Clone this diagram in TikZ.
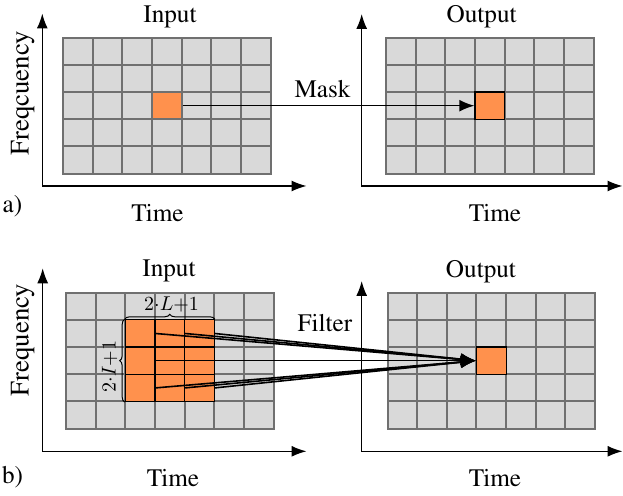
\documentclass[tikz,border=0pt]{standalone}
\usepackage[T1]{fontenc}
\renewcommand{\rmdefault}{ptm}
\usetikzlibrary{arrows.meta,decorations.pathreplacing}

\definecolor{cellgray}{HTML}{D9D9D9}
\definecolor{gridgray}{HTML}{707070}
\definecolor{hitorange}{HTML}{FF914D}

\begin{document}
\begin{tikzpicture}[x=0.5pt, y=-0.5pt,
	cell/.style={draw=gridgray, fill=cellgray, line width=1pt, minimum width=14.83pt, minimum height=13.6pt, inner sep=0pt},
	hit/.style={cell, draw=black, line width=0.6pt, fill=hitorange},
	axis/.style={draw, line width=0.65pt, {Latex[length=7.5pt,width=5.5pt]}-{Latex[length=7.5pt,width=5.5pt]}},
	flow/.style={line width=0.8pt, -{Latex[length=7.5pt,width=6pt]}},
	lbl/.style={font=\fontsize{12.6}{15}\selectfont, anchor=base, inner sep=0pt},
	side/.style={lbl, font=\fontsize{13.4}{16}\selectfont, rotate=90},
	brace/.style={draw, line width=0.5pt, decorate, decoration={brace, amplitude=2.5pt}},
	idx/.style={font=\fontsize{10}{12}\selectfont, inner sep=0.5pt}]

	\useasboundingbox (0,0) rectangle (623,496);

	\foreach \g/\gx/\gy in {ina/63/37.7, outa/386/37.7, inb/66/292.7, outb/387.5/292.7}
		\foreach \i in {0,...,6}
			\foreach \j in {0,...,4}
				\node[cell] (\g-\i-\j) at (\gx+14.83+29.65*\i, \gy+13.6+27.2*\j) {};

	\node[hit, draw=gridgray, line width=1pt] (maskin) at (ina-3-2) {};
	\node[hit] (maskout) at (outa-3-2) {};
	\foreach \i in {2,3,4}
		\foreach \j in {1,2,3}
			\node[hit] (filt-\i-\j) at (inb-\i-\j) {};
	\node[hit] (filtout) at (outb-3-2) {};

	\coordinate (ao1) at (42.3,186);
	\coordinate (ay1) at (42.3,13.5);
	\coordinate (ax1) at (306.5,186);
	\coordinate (ao2) at (361.7,186);
	\coordinate (ay2) at (361.7,14);
	\coordinate (ax2) at (622.5,186);
	\coordinate (bo1) at (42.7,451.3);
	\coordinate (by1) at (42.7,268.3);
	\coordinate (bx1) at (306.5,451.3);
	\coordinate (bo2) at (361.7,451.3);
	\coordinate (by2) at (361.7,281);
	\coordinate (bx2) at (622.5,451.3);

	\draw[axis] (ay1) -- (ao1) -- (ax1);
	\draw[axis] (ay2) -- (ao2) -- (ax2);
	\draw[axis] (by1) -- (bo1) -- (bx1);
	\draw[axis] (by2) -- (bo2) -- (bx2);

	\path[flow] (maskin.east) edge (maskout.west);
	\foreach \i in {2,3,4}
		\foreach \j in {1,2,3}
			\path[flow] (filt-\i-\j.east) edge (filtout.west);

	\draw[brace] (filt-2-1.north west) -- node[idx, above=3pt, pos=0.52] {$2{\cdot}L{+}1$} (filt-4-1.north east);
	\draw[brace] (filt-2-3.south west) -- node[idx, sloped, above=3pt, pos=0.43] {$2{\cdot}I{+}1$} (filt-2-1.north west);

	\node[lbl] (ttlina) at (170,22.5) {Input};
	\node[lbl] (ttlouta) at (481.7,23) {Output};
	\node[lbl] (tima) at (157.5,221.7) {Time};
	\node[lbl] (timouta) at (495,221.7) {Time};
	\node[lbl] (taga) at (12.5,213) {a)};
	\node[lbl] (mask) at (322.5,97.5) {Mask};
	\node[side] (freqa) at (28.5,93.3) {Freqcuency};

	\node[lbl] (ttlinb) at (169,276.7) {Input};
	\node[lbl] (ttloutb) at (481,277.5) {Output};
	\node[lbl] (timb) at (173,486.5) {Time};
	\node[lbl] (timoutb) at (495,486.5) {Time};
	\node[lbl] (tagb) at (12.5,484) {b)};
	\node[lbl] (filter) at (325,331.7) {Filter};
	\node[side] (freqb) at (28.5,340) {Frequency};

\end{tikzpicture}
\end{document}
